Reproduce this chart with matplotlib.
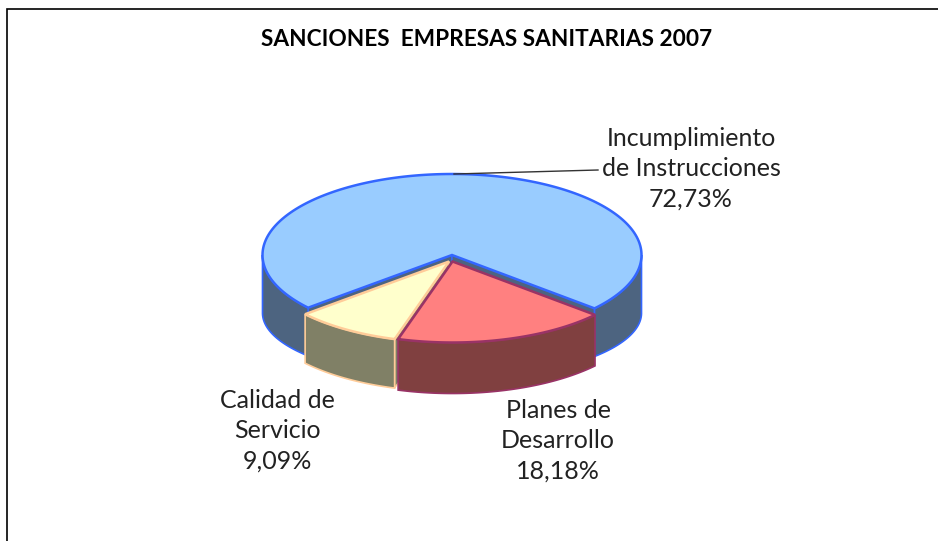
import matplotlib
matplotlib.use('Agg')
import matplotlib.pyplot as plt
from matplotlib.patches import Polygon
import numpy as np

plt.rcParams['font.family'] = ['Lato', 'DejaVu Sans']

#data
categories = ['Incumplimiento\nde Instrucciones', 'Planes de\nDesarrollo', 'Calidad de\nServicio']
values = [72.73, 18.18, 9.09]
pct_labels = ['72,73%', '18,18%', '9,09%']
title = 'SANCIONES  EMPRESAS SANITARIAS 2007'

#geometry, pixels
cx = 452
cy = 255
rx = 189.5
ry = 81
depth = [58, 51, 49]
drop = [15, 0, 0]  # blue bottom edge is flatter than its top, perspective
offset = [(0, 0), (0.5, 6.5), (-3, 6.5)]
start = 139.4  # blue starts at lower left, angles go clockwise on screen
tops = ['#99CCFF', '#FF8080', '#FFFFCC']
sides = ['#4D6480', '#804040', '#808066']
edges = ['#3366FF', '#993366', '#FFCC99']
zs = [2, 4, 3]
lab_pos = [(691, 169), (558, 441), (277, 431)]

fig = plt.figure(figsize=(9.38, 5.41), dpi=100)
ax = fig.add_axes([0, 0, 1, 1])
ax.set_xlim(0, 938)
ax.set_ylim(541, 0)
ax.axis('off')

# chart frame, only left and top show in the crop
ax.plot([7, 7, 938], [541, 9, 9], color='black', lw=1.2, solid_joinstyle='miter')


def arc(a0, a1, ox, oy):
    t = np.radians(np.linspace(a0, a1, 200))
    return np.column_stack((cx + ox + rx*np.cos(t), cy + oy + ry*np.sin(t)))


def draw_slice(a0, a1, i, cuts):
    ox, oy = offset[i]
    d = depth[i]
    c = np.array([[cx + ox, cy + oy]])
    top = arc(a0, a1, ox, oy)
    z = zs[i]
    # cut faces that can be seen
    for p in cuts:
        pt = top[p]
        wall = [c[0], pt, pt + [0, d - drop[i]*0.64], c[0] + [0, d - drop[i]*0.64]]
        ax.add_patch(Polygon(wall, fc=sides[i], ec=edges[i], lw=1.0, zorder=z))
    # outer wall, front half only (sin > 0)
    for lo, hi in ((0, 180), (360, 540)):
        s = max(a0, lo)
        e = min(a1, hi)
        if e > s:
            up = arc(s, e, ox, oy)
            t = np.radians(np.linspace(s, e, 200))
            down = up + np.column_stack((np.zeros(200), d - drop[i]*np.abs(np.sin(t))))
            ax.add_patch(Polygon(np.vstack((up, down[::-1])), fc=sides[i], ec=edges[i], lw=1.2, zorder=z))
    ax.add_patch(Polygon(np.vstack((c, top)), fc=tops[i], ec=edges[i], lw=1.8, joinstyle='miter', zorder=z))


# slice angles come from values; blue goes on from the yellow one
sweeps = np.array(values)/sum(values)*360
a = start
draw_slice(a, a + sweeps[0], 0, [0, -1])
a = a + sweeps[0]
draw_slice(a, a + sweeps[1], 1, [])
a = a + sweeps[1]
draw_slice(a, a + sweeps[2], 2, [0])

# leader
ax.plot([454, 598], [174, 170], color='#333333', lw=1, zorder=6)

ax.text(486.5, 39, title, ha='center', va='center', fontsize=16.3, fontweight='bold', color='black')
for i in range(3):
    ax.text(lab_pos[i][0], lab_pos[i][1], categories[i] + '\n' + pct_labels[i], ha='center', va='center',
            fontsize=18, linespacing=1.38, color='#222222', zorder=7)

fig.savefig('out.png', dpi=100)
